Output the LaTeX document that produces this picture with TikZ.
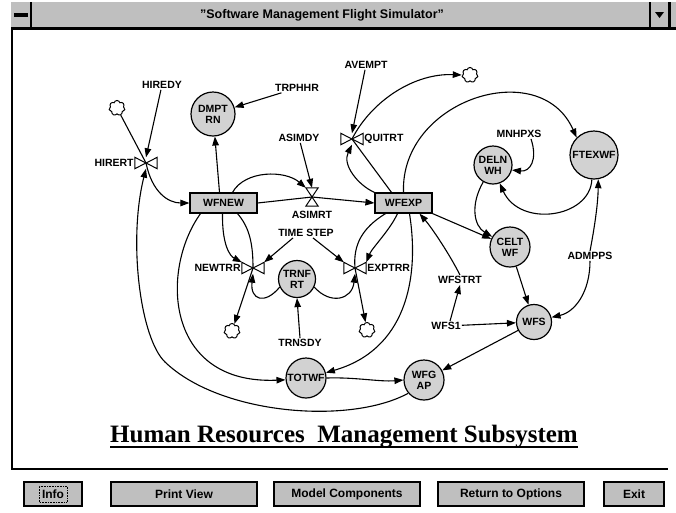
\documentclass[tikz,border=0pt]{standalone}
\usepackage{fontspec}
\setmainfont{Liberation Serif}
\setsansfont{Liberation Sans}
\usetikzlibrary{arrows.meta,shapes.symbols}

\begin{document}
\begin{tikzpicture}[x=1pt,y=-1pt,
  every node/.style={font=\sffamily\bfseries\fontsize{10.5}{11}\selectfont, inner sep=1pt},
  stock/.style={draw, line width=1.2pt, fill=gray!40, minimum height=20pt, inner sep=0pt},
  aux/.style={draw, circle, line width=1.2pt, fill=gray!35, inner sep=0pt, align=center},
  valve/.style={inner sep=0pt, minimum width=22pt, minimum height=11pt},
  vvalve/.style={inner sep=0pt, minimum width=12pt, minimum height=18pt},
  sink/.style={draw, cloud, cloud puffs=7, aspect=1, minimum width=16pt, minimum height=15pt,
               inner sep=0pt, line width=1pt, fill=white},
  link/.style={line width=1.1pt},
  arr/.style={line width=1.1pt, -{Triangle[length=9pt,width=6.5pt]}},
  valveline/.style={line width=1pt, fill=white, line join=miter},
  btn/.style={draw, line width=1.6pt, fill=gray!50, minimum height=24pt,
              font=\sffamily\bfseries\fontsize{12}{13}\selectfont},
]
\useasboundingbox (0,0) rectangle (676,512);
\fill[white] (0,0) rectangle (676,512);

% ---------- window chrome ----------
\fill[gray!50] (11,2) rectangle (676,27);
\node[font=\sffamily\bfseries\fontsize{12.5}{13}\selectfont] (wintitle) at (322,15)
  {"Software Management Flight Simulator"};
\fill (14,13) rectangle (28,17);
\draw[line width=2pt] (31,2) -- (31,27);
\draw[line width=2pt] (650,2) -- (650,27);
\fill (655,12) -- (664,12) -- (659.5,18) -- cycle;
\draw[line width=3pt] (669.5,2) -- (669.5,27);
\draw[line width=3pt] (11,28.5) -- (676,28.5);
\draw[line width=2.5pt] (12,27) -- (12,470);
\draw[line width=2pt] (11,469) -- (668,469);

% ---------- levels ----------
\node[stock, minimum width=67pt] (wfnew) at (223.5,203) {WFNEW};
\node[stock, minimum width=57pt] (wfexp) at (403.5,203) {WFEXP};

% ---------- auxiliaries ----------
\node[aux, minimum size=44pt] (dmptrn) at (213,114) {DMPT\\RN};
\node[aux, minimum size=38pt] (delnwh) at (493,165) {DELN\\WH};
\node[aux, minimum size=48pt] (ftexwf) at (594,155) {FTEXWF};
\node[aux, minimum size=40pt] (celtwf) at (510,247) {CELT\\WF};
\node[aux, minimum size=35pt] (wfs) at (534,322) {WFS};
\node[aux, minimum size=40pt] (wfgap) at (424,380) {WFG\\AP};
\node[aux, minimum size=37pt] (trnfrt) at (297,279) {TRNF\\RT};
\node[aux, minimum size=40pt] (totwf) at (306,378) {TOTWF};

% ---------- rates (valves) ----------
\node[valve] (hirert) at (146,163) {};
\node[vvalve] (asimrt) at (312,197) {};
\node[valve] (quitrt) at (352,139) {};
\node[valve] (newtrr) at (253,268) {};
\node[valve] (exptrr) at (355,268) {};

\node[anchor=east] (hirertlbl) at (hirert.west) {HIRERT};
\node (asimrtlbl) at (312,215) {ASIMRT};
\node[anchor=west] (quitrtlbl) at (quitrt.east) {QUITRT};
\node[anchor=east] (newtrrlbl) at (newtrr.west) {NEWTRR};
\node[anchor=west] (exptrrlbl) at (exptrr.east) {EXPTRR};

% ---------- sources and sinks ----------
\node[sink] (src1) at (117,108) {};
\node[sink] (snk2) at (470,75) {};
\node[sink] (snk3) at (232,331) {};
\node[sink] (snk4) at (367,330) {};

% ---------- constants ----------
\node (hiredy) at (162,85) {HIREDY};
\node (trphhr) at (297,88) {TRPHHR};
\node (asimdy) at (299,138) {ASIMDY};
\node (avempt) at (366,65) {AVEMPT};
\node (mnhpxs) at (519,134) {MNHPXS};
\node (timestep) at (306,233) {TIME STEP};
\node (trnsdy) at (300,343) {TRNSDY};
\node (wfstrt) at (460,280) {WFSTRT};
\node (wfs1) at (446,326) {WFS1};
\node (admpps) at (590,256) {ADMPPS};

% ---------- hiring ----------
\draw[arr] (hiredy) -- (hirert.north);
\draw[link] (src1) -- (hirert.center);
\draw[arr] (hirert.center) .. controls (152,192) and (168,203) .. (wfnew.west);
\draw[arr] ([xshift=-4pt]wfnew.north) -- (dmptrn);
\draw[arr] (trphhr) -- (dmptrn);

% ---------- assimilation ----------
\draw[arr] (asimdy) -- (asimrt.north);
\draw[arr] ([xshift=9pt]wfnew.north) .. controls (245,170) and (285,170) .. (asimrt.north west);
\draw[link] (wfnew.east) -- (asimrt.center);
\draw[arr] (asimrt.center) -- (wfexp.west);

% ---------- quits ----------
\draw[arr] (avempt) -- (quitrt.north);
\draw[arr] (quitrt.center) .. controls (372,100) and (415,73) .. (snk2.west);
\draw[link] ([xshift=-12pt]wfexp.north) -- (quitrt.center);
\draw[arr] (wfexp.north west) .. controls (358,185) and (342,165) .. (quitrt.south);
\draw[arr] (wfexp.north) .. controls (400,100) and (540,55) .. (ftexwf.135);

% ---------- experienced workforce ----------
\draw[arr] ([xshift=12pt]mnhpxs.south) .. controls (538,160) and (530,172) .. (delnwh.-15);
\draw[arr] (ftexwf.-95) .. controls (590,218) and (520,228) .. (delnwh.-70);
\draw[arr] (delnwh.-120) .. controls (470,205) and (474,226) .. (celtwf.150);
\draw[arr] (wfexp.south east) -- (celtwf);
\draw[arr] (admpps.north) .. controls (594,230) and (598,205) .. (ftexwf.-80);
\draw[arr] (admpps.south) .. controls (590,292) and (575,312) .. (wfs.15);
\draw[arr] (celtwf) -- (wfs);
\draw[arr] (wfs1) -- (wfs);
\draw[arr] ([xshift=4pt]wfs1.north) -- (wfstrt.south);
\draw[arr] (wfstrt.north) .. controls (450,255) and (432,228) .. ([xshift=16pt]wfexp.south);
\draw[arr] (wfs) -- (wfgap);

% ---------- total workforce and gap ----------
\draw[arr] (totwf.east) .. controls (355,377) and (380,382) .. (wfgap.west);
\draw[arr] ([xshift=6pt]wfexp.south) .. controls (420,280) and (405,350) .. (totwf.15);
\draw[arr] ([xshift=-23pt]wfnew.south) .. controls (160,270) and (165,385) .. (totwf.185);
\draw[arr] (wfgap.220) .. controls (350,425) and (220,415) .. (165,362)
           .. controls (140,338) and (128,240) .. (hirert.south);

% ---------- training ----------
\draw[arr] ([xshift=-1pt]wfnew.south) .. controls (222,245) and (230,256) .. (newtrr.north west);
\draw[link] ([xshift=14pt]wfnew.south) .. controls (250,228) and (253,245) .. (newtrr.center);
\draw[arr] (newtrr.center) -- (snk3);
\draw[arr] (trnfrt.205) .. controls (265,305) and (250,300) .. (newtrr.south);
\draw[arr] ([xshift=-13pt]timestep.south) -- (newtrr.north east);
\draw[arr] ([xshift=7pt]timestep.south) -- (exptrr.north west);
\draw[link] ([xshift=-18pt]wfexp.south) .. controls (362,228) and (353,245) .. (exptrr.center);
\draw[arr] ([xshift=-6pt]wfexp.south) .. controls (390,230) and (372,248) .. (exptrr.north east);
\draw[arr] (exptrr.center) -- (snk4);
\draw[arr] (trnfrt.-25) .. controls (330,305) and (352,300) .. (exptrr.south);
\draw[arr] (trnsdy.north) -- (trnfrt.south);

% ---------- valve symbols on top ----------
\foreach \v in {hirert,quitrt,newtrr,exptrr}
  \draw[valveline] (\v.north west) -- (\v.south east) -- (\v.north east) -- (\v.south west) -- cycle;
\draw[valveline] (asimrt.north west) -- (asimrt.north east) -- (asimrt.south west) -- (asimrt.south east) -- cycle;

% ---------- subsystem title ----------
\node[font=\rmfamily\bfseries\fontsize{25}{30}\selectfont, anchor=base west, inner sep=0pt]
  (title) at (110,442) {Human Resources\ \ Management Subsystem};
\draw[line width=1.8pt] ([yshift=-5pt]title.base west) -- ([yshift=-5pt]title.base east);

% ---------- buttons ----------
\node[btn, minimum width=58pt] (binfo) at (53,494) {Info};
\draw[densely dotted, line width=0.6pt] ([shift={(-14pt,-8pt)}]binfo.center) rectangle ([shift={(14pt,8pt)}]binfo.center);
\node[btn, minimum width=146pt] (bprint) at (184,494) {Print View};
\node[btn, minimum width=146pt] (bmodel) at (347,494) {Model Components};
\node[btn, minimum width=146pt] (breturn) at (511,494) {Return to Options};
\node[btn, minimum width=60pt] (bexit) at (634,494) {Exit};
\end{tikzpicture}
\end{document}
